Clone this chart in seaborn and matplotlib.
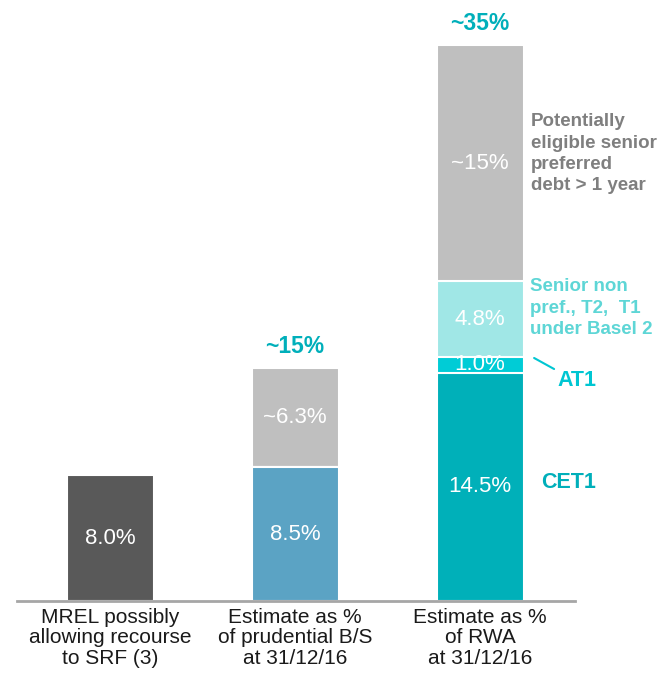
import numpy as np
import pandas as pd
import seaborn as sns
from matplotlib import pyplot as plt

# Chart values
categories = ["MREL possibly\nallowing recourse\nto SRF (3)",
              "Estimate as %\nof prudential B/S\nat 31/12/16",
              "Estimate as %\nof RWA\nat 31/12/16"]
base = [8.0, 8.5, 14.5]          # MREL / B/S estimate / CET1
at1 = [0.0, 0.0, 1.0]
senior_non_pref = [0.0, 0.0, 4.8]
other_debt = [0.0, 6.3, 15.0]
base_labels = ["8.0%", "8.5%", "14.5%"]
at1_labels = ["", "", "1.0%"]
snp_labels = ["", "", "4.8%"]
other_labels = ["", "~6.3%", "~15%"]
total_labels = ["", "~15%", "~35%"]

base_colors = ["#595959", "#5BA3C4", "#00B0B9"]
at1_color = "#00CCD6"
snp_color = "#A0E7E6"
other_color = "#BFBFBF"

sns.set_style("white")
plt.rcParams['font.family'] = ['Liberation Sans', 'DejaVu Sans']

df = pd.DataFrame({"cat": categories, "base": base, "at1": at1,
                   "snp": senior_non_pref, "other": other_debt})
df["c1"] = df["base"]
df["c2"] = df["c1"] + df["at1"]
df["c3"] = df["c2"] + df["snp"]
df["c4"] = df["c3"] + df["other"]

fig = plt.figure(figsize=(6.6, 6.74), dpi=100)
ax = fig.add_axes([17 / 660, 73 / 674, 558 / 660, 601 / 674])

w = 0.47
edge = dict(edgecolor="white", linewidth=1.5)
# draw cumulative layers from the top down
sns.barplot(data=df, x="cat", y="c4", color=other_color, width=w, saturation=1, ax=ax, **edge)
sns.barplot(data=df, x="cat", y="c3", color=snp_color, width=w, saturation=1, ax=ax, **edge)
sns.barplot(data=df, x="cat", y="c2", color=at1_color, width=w, saturation=1, ax=ax, **edge)
sns.barplot(data=df, x="cat", y="c1", hue="cat", palette=base_colors, width=w,
            saturation=1, legend=False, ax=ax, **edge)

# segment labels
for i in range(len(categories)):
    segs = [(0, df["c1"][i], base_labels[i]),
            (df["c1"][i], df["c2"][i], at1_labels[i]),
            (df["c2"][i], df["c3"][i], snp_labels[i]),
            (df["c3"][i], df["c4"][i], other_labels[i])]
    for lo, hi, lab in segs:
        if lab:
            ax.text(i, (lo + hi) / 2, lab, ha="center", va="center",
                    color="white", fontsize=16)
    if total_labels[i]:
        ax.text(i, df["c4"][i] + 1.35, total_labels[i], ha="center", va="center",
                color="#00AFBA", fontsize=16.5, fontweight="bold")

# side annotations for the RWA bar
ax.text(2.276, 28.4, "Potentially\neligible senior\npreferred\ndebt > 1 year",
        ha="left", va="center", color="#7F7F7F", fontsize=13.5,
        fontweight="bold", linespacing=1.33)
ax.text(2.27, 18.6, "Senior non\npref., T2,  T1\nunder Basel 2",
        ha="left", va="center", color="#5ED6D6", fontsize=13.5,
        fontweight="bold", linespacing=1.33)
ax.text(2.42, 14.0, "AT1", ha="left", va="center", color="#00C6D2",
        fontsize=15.5, fontweight="bold")
ax.text(2.33, 7.5, "CET1", ha="left", va="center", color="#00AFBA",
        fontsize=15.5, fontweight="bold")
ax.plot([2.292, 2.40], [15.43, 14.73], color="#00C6D2", lw=1.5, clip_on=False)

ax.set_xlim(-0.503, 2.513)
ax.set_ylim(0, 38.16)
ax.set_xlabel("")
ax.set_ylabel("")
ax.set_yticks([])
ax.tick_params(axis="x", length=0, pad=5, labelsize=15, labelcolor="#1A1A1A")
for s in ["top", "left", "right"]:
    ax.spines[s].set_visible(False)
ax.spines["bottom"].set_color("#A6A6A6")
ax.spines["bottom"].set_linewidth(2)
for t in ax.get_xticklabels():
    t.set_linespacing(1.1)

fig.savefig("out.png", dpi=100)
